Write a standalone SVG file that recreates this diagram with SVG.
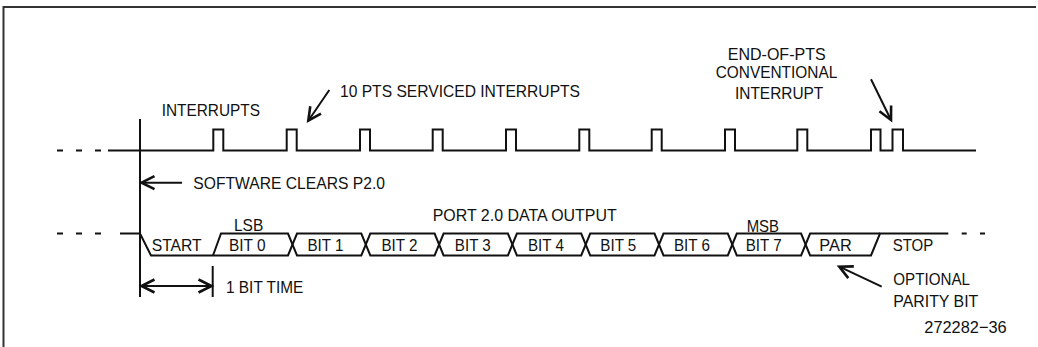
<svg xmlns="http://www.w3.org/2000/svg" width="1038" height="347" viewBox="0 0 1038 347">
  <style>
    .sig { fill: none; stroke: #111; stroke-width: 2; stroke-linejoin: miter; }
    .dash { fill: none; stroke: #111; stroke-width: 2; }
    .arr { fill: none; stroke: #111; stroke-width: 2; }
    .frame { fill: none; stroke: #333; stroke-width: 2; }
    text { font-family: "Liberation Sans", Arial, Helvetica, sans-serif; font-size: 17px; fill: #111; }
  </style>
  <defs>
    <marker id="head" markerUnits="userSpaceOnUse" markerWidth="20" markerHeight="20" refX="0" refY="0" viewBox="-16 -10 20 20" orient="auto-start-reverse" overflow="visible">
      <path d="M-13,-6.5 L0,0 L-13,6.5" fill="none" stroke="#111" stroke-width="2.6" stroke-linejoin="miter"/>
    </marker>
  </defs>

  <rect width="1038" height="347" fill="#fff"/>

  <!-- figure frame: top and left edges -->
  <g id="frame">
    <path class="frame" d="M3.5,347 V7 H1036"/>
  </g>

  <!-- interrupt request line -->
  <g id="interrupts">
    <line class="dash" x1="57" y1="150.5" x2="101" y2="150.5" stroke-dasharray="6 13"/>
    <path class="sig" d="M108,150.5 H213.3 V129.5 H223.3 V150.5 H286.7 V129.5 H296.7 V150.5 H360 V129.5 H370 V150.5 H432.7 V129.5 H442.7 V150.5 H506 V129.5 H516 V150.5 H579.3 V129.5 H589.3 V150.5 H651.7 V129.5 H661.7 V150.5 H725 V129.5 H735 V150.5 H797.3 V129.5 H807.3 V150.5 H871 V129.5 H880.5 V150.5 H892.5 V129.5 H903 V150.5 H976"/>
    <text x="161.7" y="116" textLength="98.3" lengthAdjust="spacingAndGlyphs">INTERRUPTS</text>
  </g>

  <!-- start-of-transmission reference line -->
  <g id="reference">
    <line class="sig" x1="140" y1="119" x2="140" y2="297"/>
    <line class="sig" x1="212.7" y1="266" x2="212.7" y2="297"/>
  </g>

  <!-- port 2.0 serial data waveform -->
  <g id="port-data">
    <line class="dash" x1="57" y1="233.5" x2="101" y2="233.5" stroke-dasharray="6 13"/>
    <line class="dash" x1="961.7" y1="233.5" x2="986" y2="233.5" stroke-dasharray="5 13.3"/>
    <path class="sig" d="M120,233.5 H140 L151,255.5 H288 L297,233.5 H361.3 L370.3,255.5 H434.6 L443.6,233.5 H507.9 L516.9,255.5 H581.2 L590.2,233.5 H654.5 L663.5,255.5 H727.8 L736.8,233.5 H801.1 L810.1,255.5 H871 L880,233.5 H948.3"/>
    <path class="sig" d="M213,255.5 L221,233.5 H288 L297,255.5 H361.3 L370.3,233.5 H434.6 L443.6,255.5 H507.9 L516.9,233.5 H581.2 L590.2,255.5 H654.5 L663.5,233.5 H727.8 L736.8,255.5 H801.1 L810.1,233.5 H880"/>
    <text x="432.7" y="220.7" textLength="184" lengthAdjust="spacingAndGlyphs">PORT 2.0 DATA OUTPUT</text>
    <text x="234" y="230.7" textLength="29.3" lengthAdjust="spacingAndGlyphs">LSB</text>
    <text x="746.7" y="232" textLength="32.3" lengthAdjust="spacingAndGlyphs">MSB</text>
    <text x="151.7" y="251" textLength="50" lengthAdjust="spacingAndGlyphs">START</text>
    <text x="229" y="251" textLength="36.5" lengthAdjust="spacingAndGlyphs">BIT 0</text>
    <text x="307.5" y="251" textLength="36" lengthAdjust="spacingAndGlyphs">BIT 1</text>
    <text x="381.5" y="251" textLength="36" lengthAdjust="spacingAndGlyphs">BIT 2</text>
    <text x="454.8" y="251" textLength="36" lengthAdjust="spacingAndGlyphs">BIT 3</text>
    <text x="528" y="251" textLength="36" lengthAdjust="spacingAndGlyphs">BIT 4</text>
    <text x="600.3" y="251" textLength="36" lengthAdjust="spacingAndGlyphs">BIT 5</text>
    <text x="674" y="251" textLength="36" lengthAdjust="spacingAndGlyphs">BIT 6</text>
    <text x="745.7" y="251" textLength="36" lengthAdjust="spacingAndGlyphs">BIT 7</text>
    <text x="819.3" y="251" textLength="32.4" lengthAdjust="spacingAndGlyphs">PAR</text>
    <text x="892.7" y="251" textLength="40.6" lengthAdjust="spacingAndGlyphs">STOP</text>
  </g>

  <!-- annotations -->
  <g id="note-pts">
    <text x="340" y="96.7" textLength="240" lengthAdjust="spacingAndGlyphs">10 PTS SERVICED INTERRUPTS</text>
  </g>
  <g id="note-end-of-pts">
    <text x="727.7" y="60" textLength="98" lengthAdjust="spacingAndGlyphs">END-OF-PTS</text>
    <text x="715.7" y="78.3" textLength="121.6" lengthAdjust="spacingAndGlyphs">CONVENTIONAL</text>
    <text x="735" y="99.3" textLength="88.3" lengthAdjust="spacingAndGlyphs">INTERRUPT</text>
  </g>
  <g id="note-software">
    <text x="193.3" y="189" textLength="191.7" lengthAdjust="spacingAndGlyphs">SOFTWARE CLEARS P2.0</text>
  </g>
  <g id="note-bit-time">
    <text x="226" y="292.8" textLength="77.3" lengthAdjust="spacingAndGlyphs">1 BIT TIME</text>
  </g>
  <g id="note-parity">
    <text x="893.3" y="285" textLength="76.7" lengthAdjust="spacingAndGlyphs">OPTIONAL</text>
    <text x="893.3" y="307.3" textLength="85" lengthAdjust="spacingAndGlyphs">PARITY BIT</text>
  </g>
  <g id="figure-number">
    <text x="924.3" y="333.3" textLength="82.4" lengthAdjust="spacingAndGlyphs">272282−36</text>
  </g>

  <!-- pointer arrows -->
  <g id="connectors">
    <line class="arr" x1="329.3" y1="90" x2="308.3" y2="120.7" marker-end="url(#head)"/>
    <line class="arr" x1="871" y1="79.3" x2="891" y2="120" marker-end="url(#head)"/>
    <line class="arr" x1="182" y1="182.7" x2="141.5" y2="182.7" marker-end="url(#head)"/>
    <line class="arr" x1="141.5" y1="286" x2="211.5" y2="286" marker-start="url(#head)" marker-end="url(#head)"/>
    <line class="arr" x1="881.7" y1="286.7" x2="839.3" y2="266.7" marker-end="url(#head)"/>
  </g>
</svg>
